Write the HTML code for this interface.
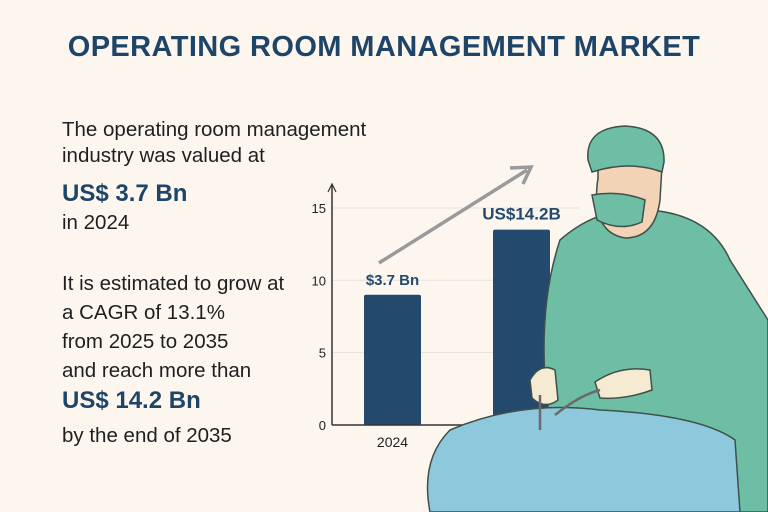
<!DOCTYPE html>
<html><head><meta charset="utf-8"><style>
body{margin:0;background:#fcf6ee;}
#root{position:relative;width:768px;height:512px;overflow:hidden;background:#fcf6ee;font-family:"Liberation Sans",sans-serif;}
.t{position:absolute;color:#1f1f1f;font-size:20.5px;line-height:26px;}
.big{position:absolute;color:#1e4468;font-weight:bold;font-size:24px;}
</style></head><body>
<div id="root">
<div style="position:absolute;left:0;width:768px;top:31px;text-align:center;font-size:29px;font-weight:bold;color:#1e4468;letter-spacing:0.4px;">OPERATING ROOM MANAGEMENT MARKET</div>
<div class="t" style="left:62px;top:117px;">The operating room management<br>industry was valued at</div>
<div class="big" style="left:62px;top:180px;">US$ 3.7 Bn</div>
<div class="t" style="left:62px;top:210px;">in 2024</div>
<div class="t" style="left:62px;top:269px;line-height:29px;">It is estimated to grow at<br>a CAGR of 13.1%<br>from 2025 to 2035<br>and reach more than</div>
<div class="big" style="left:62px;top:387px;">US$ 14.2 Bn</div>
<div class="t" style="left:62px;top:423px;">by the end of 2035</div>
<svg id="chart" width="768" height="512" style="position:absolute;left:0;top:0">
<g id="grid"></g><g id="bars"></g>
<line x1="332" y1="185" x2="332" y2="425" stroke="#333" stroke-width="1.5"/>
<path d="M328,192 L332,184 L336,192" fill="none" stroke="#333" stroke-width="1.2"/>
<line x1="332" y1="425" x2="560" y2="425" stroke="#333" stroke-width="1.5"/>
<line x1="379" y1="263" x2="527" y2="170" stroke="#9a9a9a" stroke-width="3.5"/>
<path d="M510,168 L531,167 L523,184" fill="none" stroke="#9a9a9a" stroke-width="3.5"/>
<g>
<path d="M560,240 Q600,205 650,210 Q710,215 730,260 L768,320 L768,512 L560,512 L545,380 Q540,300 560,240Z" fill="#6dbea5" stroke="#3f4f4a" stroke-width="1.5"/>
<path d="M598,178 Q590,232 625,238 Q655,238 660,200 L662,165 L598,165Z" fill="#f2d3b5" stroke="#3f4f4a" stroke-width="1.5"/>
<path d="M588,160 Q585,128 625,126 Q665,128 664,162 L662,172 Q630,160 592,172Z" fill="#6dbea5" stroke="#3f4f4a" stroke-width="1.5"/>
<path d="M592,195 Q620,190 645,200 L642,222 Q620,232 597,220Z" fill="#6dbea5" stroke="#3f4f4a" stroke-width="1.5"/>
<path d="M530,380 Q540,362 555,370 L558,400 Q545,410 532,398Z" fill="#f5ead2" stroke="#3f4f4a" stroke-width="1.5"/>
<path d="M595,382 Q620,365 650,370 L652,390 Q625,400 600,398Z" fill="#f5ead2" stroke="#3f4f4a" stroke-width="1.5"/>
<path d="M450,430 Q520,400 600,410 Q700,415 735,440 L740,512 L430,512 Q420,460 450,430Z" fill="#8ec8dc" stroke="#3f4f4a" stroke-width="1.5"/>
<path d="M540,395 L540,430 M555,415 Q580,395 600,390" stroke="#6a6a6a" stroke-width="2.5" fill="none"/>
</g>
</svg>
</div>
<script>
const categories=["2024","2035"];
const values=[9.0,13.5];
const labels=["$3.7 Bn","US$14.2B"];
const ticks=[0,5,10,15];
const NS="http://www.w3.org/2000/svg";
const y=v=>425-v*14.47;
const xPos=i=>364+i*129;
const bw=57;
const grid=document.getElementById('grid'),bars=document.getElementById('bars');
ticks.forEach(t=>{
 if(t>0){const l=document.createElementNS(NS,'line');
 
 
 l.setAttribute('x1',333);l.setAttribute('x2',580);l.setAttribute('y1',y(t));l.setAttribute('y2',y(t));l.setAttribute('stroke','#e6e1da');grid.appendChild(l);}
 const tx=document.createElementNS(NS,'text');
 
 
 tx.setAttribute('x',326);tx.setAttribute('y',y(t)+5);tx.setAttribute('text-anchor','end');tx.setAttribute('font-size','13');tx.setAttribute('font-family','Liberation Sans');tx.setAttribute('fill','#222');tx.textContent=t;grid.appendChild(tx);
});
values.forEach((v,i)=>{
 const r=document.createElementNS(NS,'rect');
 
 
 r.setAttribute('x',xPos(i));r.setAttribute('y',y(v));r.setAttribute('width',bw);r.setAttribute('height',425-y(v));r.setAttribute('rx',2);r.setAttribute('fill','#234a6d');bars.appendChild(r);
 const lb=document.createElementNS(NS,'text');
 
 
 lb.setAttribute('x',xPos(i)+bw/2);lb.setAttribute('y',y(v)-10);lb.setAttribute('text-anchor','middle');lb.setAttribute('font-size',i?17:15);lb.setAttribute('font-weight','bold');lb.setAttribute('font-family','Liberation Sans');lb.setAttribute('fill','#234a6d');lb.textContent=labels[i];bars.appendChild(lb);
 if(i===0){const c=document.createElementNS(NS,'text');
 
 
 c.setAttribute('x',xPos(i)+bw/2);c.setAttribute('y',447);c.setAttribute('text-anchor','middle');c.setAttribute('font-size','14');c.setAttribute('font-family','Liberation Sans');c.setAttribute('fill','#222');c.textContent=categories[i];bars.appendChild(c);}
});
</script>
</body></html>
